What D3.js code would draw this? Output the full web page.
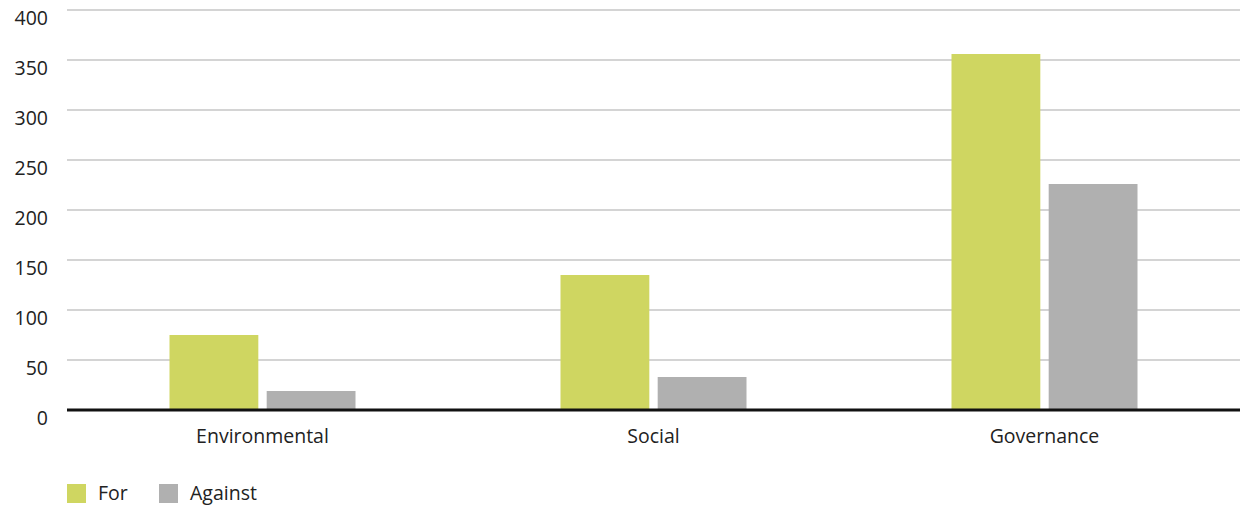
<!DOCTYPE html>
<html>
<head>
<meta charset="utf-8">
<script src="https://cdn.jsdelivr.net/npm/d3@7"></script>
<style>
  body { margin: 0; background: #fff; }
  text { font-family: "Open Sans", "Noto Sans", sans-serif; fill: #222; }
</style>
</head>
<body>
<div id="grafico"></div>
<script>
const categorias = ["Environmental", "Social", "Governance"];
const series = ["For", "Against"];
const valoresFor = [75, 135, 356];
const valoresAgainst = [19, 33, 226];
const ticks = [0, 50, 100, 150, 200, 250, 300, 350, 400];
const colores = ["#cfd661", "#b0b0b0"];

const ancho = 1240, alto = 506;
const margen = {izq: 67, der: 0, arriba: 10, abajo: 96};

const svg = d3.select("#grafico").append("svg")
    .attr("width", ancho)
    .attr("height", alto);

const x = d3.scaleBand()
    .domain(categorias)
    .range([margen.izq, ancho - margen.der])
    .paddingInner(0)
    .paddingOuter(0);

const xSerie = d3.scaleBand()
    .domain(series)
    .range([0, 186])
    .paddingInner(8 / 93);

const y = d3.scaleLinear()
    .domain([0, 400])
    .range([alto - margen.abajo, margen.arriba]);

// lineas de la cuadricula
svg.append("g")
    .selectAll("line")
    .data(ticks.filter(t => t > 0))
    .join("line")
    .attr("x1", margen.izq)
    .attr("x2", ancho - margen.der)
    .attr("y1", d => y(d))
    .attr("y2", d => y(d))
    .attr("stroke", "#c6c6c6")
    .attr("stroke-width", 1.5);

// etiquetas del eje y (van por debajo de su linea)
svg.append("g")
    .selectAll("text")
    .data(ticks)
    .join("text")
    .attr("x", 48)
    .attr("y", d => y(d) + 14.5)
    .attr("text-anchor", "end")
    .attr("font-size", 19.5)
    .text(d => d);

const datos = categorias.map((c, i) => ({cat: c, valores: [valoresFor[i], valoresAgainst[i]]}));

const grupos = svg.append("g")
    .selectAll("g")
    .data(datos)
    .join("g")
    .attr("transform", d => `translate(${x(d.cat) + (x.bandwidth() - 186) / 2},0)`);

grupos.selectAll("rect")
    .data(d => d.valores.map((v, j) => ({serie: series[j], valor: v, j})))
    .join("rect")
    .attr("x", d => xSerie(d.serie))
    .attr("width", xSerie.bandwidth())
    .attr("y", d => y(d.valor))
    .attr("height", d => y(0) - y(d.valor))
    .attr("fill", d => colores[d.j]);

// linea base
svg.append("line")
    .attr("x1", margen.izq)
    .attr("x2", ancho - margen.der)
    .attr("y1", y(0))
    .attr("y2", y(0))
    .attr("stroke", "#111")
    .attr("stroke-width", 3);

// etiquetas de categoria
svg.append("g")
    .selectAll("text")
    .data(categorias)
    .join("text")
    .attr("x", d => x(d) + x.bandwidth() / 2)
    .attr("y", y(0) + 33)
    .attr("text-anchor", "middle")
    .attr("font-size", 19.5)
    .text(d => d);

// leyenda
const posLeyenda = [67, 159];
const leyenda = svg.append("g")
    .selectAll("g")
    .data(series)
    .join("g")
    .attr("transform", (d, i) => `translate(${posLeyenda[i]},484)`);

leyenda.append("rect")
    .attr("width", 19)
    .attr("height", 19)
    .attr("fill", (d, i) => colores[i]);

leyenda.append("text")
    .attr("x", 31)
    .attr("y", 16)
    .attr("font-size", 19.5)
    .text(d => d);
</script>
</body>
</html>
